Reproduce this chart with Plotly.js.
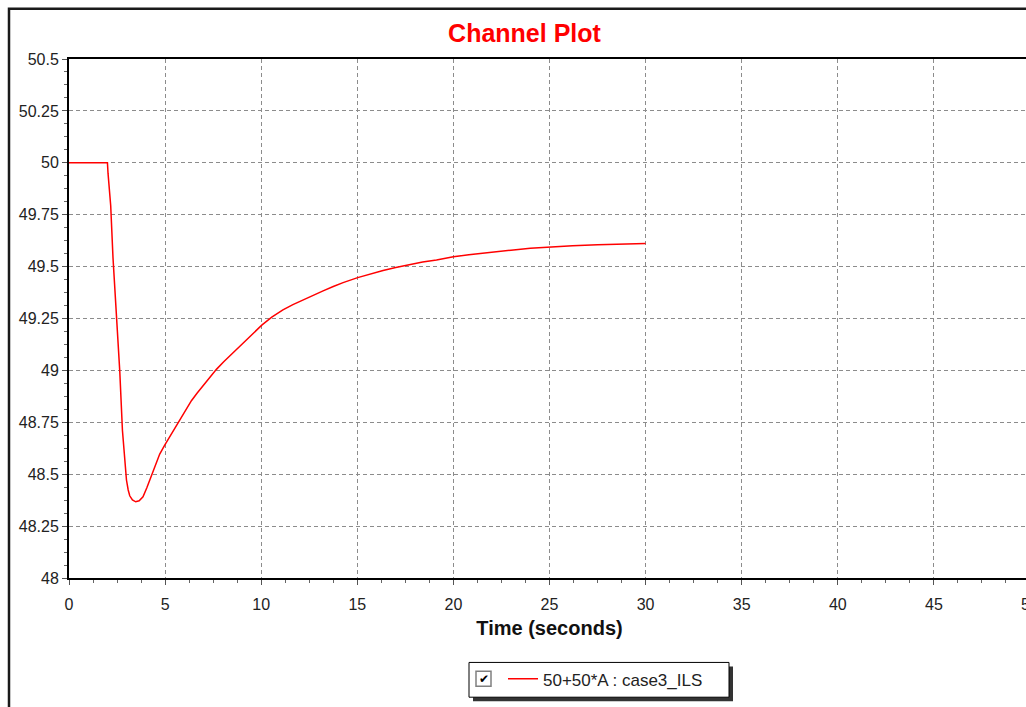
<!DOCTYPE html>
<html>
<head>
<meta charset="utf-8">
<script src="https://cdn.plot.ly/plotly-3.0.1.min.js"></script>
<style>
html,body{margin:0;padding:0;overflow:hidden;background:#fff;width:1026px;height:707px;}
#chart{width:1040px;height:707px;}
</style>
</head>
<body>
<div id="chart"></div>
<script>
// ---- data ----
const chartTitle = "Channel Plot";
const xAxisTitle = "Time (seconds)";
const seriesName = "50+50*A : case3_ILS";
const time = [0, 2.0, 2.03, 2.17, 2.29, 2.47, 2.64, 2.78, 2.90, 2.99, 3.08, 3.16, 3.30, 3.47, 3.65, 3.85, 4.05, 4.29, 4.50, 4.72, 4.98, 5.24, 5.50, 5.76, 6.05, 6.37, 6.67, 6.97, 7.30, 7.67, 8.05, 8.45, 8.85, 9.23, 9.63, 10.03, 10.55, 11.13, 11.65, 12.17, 12.70, 13.22, 13.75, 14.26, 15.02, 15.65, 16.34, 17.00, 17.73, 18.40, 19.12, 20.0, 20.8, 21.5, 22.3, 23.0, 24.0, 25.0, 26.2, 27.5, 28.7, 30.0];
const value = [50, 50, 49.95, 49.793, 49.541, 49.254, 48.999, 48.712, 48.549, 48.472, 48.424, 48.396, 48.376, 48.367, 48.372, 48.391, 48.435, 48.494, 48.550, 48.597, 48.640, 48.680, 48.722, 48.766, 48.811, 48.854, 48.891, 48.926, 48.964, 49.005, 49.042, 49.077, 49.114, 49.149, 49.184, 49.218, 49.257, 49.292, 49.317, 49.340, 49.362, 49.383, 49.404, 49.423, 49.447, 49.465, 49.481, 49.496, 49.511, 49.522, 49.532, 49.547, 49.557, 49.565, 49.572, 49.579, 49.588, 49.595, 49.600, 49.605, 49.608, 49.611];
const xTickVals = [0, 5, 10, 15, 20, 25, 30, 35, 40, 45, 50];
const xTickText = ["0", "5", "10", "15", "20", "25", "30", "35", "40", "45", "50"];
const yTickVals = [48, 48.25, 48.5, 48.75, 49, 49.25, 49.5, 49.75, 50, 50.25, 50.5];
const yTickText = ["48", "48.25", "48.5", "48.75", "49", "49.25", "49.5", "49.75", "50", "50.25", "50.5"];

// ---- layout helpers (pixel -> paper) ----
const L = 69, R = 1030, T = 59.5, B = 582;
const px = v => (v - L) / (R - L);
const py = v => (B - v) / (B - T);
const FONT = "Liberation Sans, Arial, sans-serif";

const trace = {
  x: time, y: value, type: "scatter", mode: "lines", name: seriesName,
  line: {color: "#ff0000", width: 1.5}
};

const gridDash = "4px,3px";
const layout = {
  width: 1040, height: 707,
  margin: {l: L, r: 1040 - R, t: T, b: 707 - B, pad: 0},
  paper_bgcolor: "#ffffff", plot_bgcolor: "#ffffff",
  font: {family: FONT, color: "#222"},
  title: {text: chartTitle, font: {family: FONT, size: 25, color: "#ff0000", weight: "bold"},
          xref: "paper", x: px(524.5), xanchor: "center", yref: "container", y: 1 - 33/707, yanchor: "middle"},
  xaxis: {
    range: [0, 50], tickvals: xTickVals, ticktext: xTickText,
    showline: true, linecolor: "#000", linewidth: 2, mirror: true,
    ticks: "outside", ticklen: 5, tickcolor: "#555", tickwidth: 1,
    ticklabelstandoff: 6,
    tickfont: {family: FONT, size: 16, color: "#222"},
    showgrid: true, gridcolor: "#8c8c8c", gridwidth: 1, griddash: gridDash,
    zeroline: false,
    minor: {dtick: 1.25, ticks: "outside", ticklen: 3, tickcolor: "#666", showgrid: false},
    title: {text: xAxisTitle, font: {family: FONT, size: 20, color: "#111", weight: "bold"}, standoff: 9},
    automargin: false
  },
  yaxis: {
    range: [48, 50.5], tickvals: yTickVals, ticktext: yTickText,
    showline: true, linecolor: "#000", linewidth: 2, mirror: true,
    ticks: "outside", ticklen: 5, tickcolor: "#555", tickwidth: 1,
    tickfont: {family: FONT, size: 16, color: "#222"},
    showgrid: true, gridcolor: "#8c8c8c", gridwidth: 1, griddash: gridDash,
    zeroline: false,
    minor: {dtick: 0.0625, ticks: "outside", ticklen: 3, tickcolor: "#666", showgrid: false},
    automargin: false
  },
  showlegend: true,
  legend: {
    x: px(503), xanchor: "left", y: py(684), yanchor: "middle",
    bgcolor: "rgba(0,0,0,0)", borderwidth: 0,
    font: {family: FONT, size: 17, color: "#222"}
  },
  shapes: [
    // outer frame
    {type: "rect", xref: "paper", yref: "paper", x0: px(9), x1: 1.3, y0: -0.6, y1: py(9),
     line: {color: "#1a1a1a", width: 2.5}, fillcolor: "rgba(0,0,0,0)", layer: "below"},
    // legend shadow
    {type: "rect", xref: "paper", yref: "paper", x0: px(473), x1: px(733), y0: py(706), y1: py(671),
     line: {width: 0}, fillcolor: "#333", layer: "above"},
    // legend box
    {type: "rect", xref: "paper", yref: "paper", x0: px(469), x1: px(729), y0: py(702), y1: py(667),
     line: {color: "#000", width: 1}, fillcolor: "#fff", layer: "above"},
    // checkbox
    {type: "rect", xref: "paper", yref: "paper", x0: px(476), x1: px(491), y0: py(691), y1: py(676),
     line: {color: "#808080", width: 1.5}, fillcolor: "#fff", layer: "above"}
  ],
  annotations: [
    {text: "✔", xref: "paper", yref: "paper", x: px(483.5), y: py(683.5), xanchor: "center", yanchor: "middle",
     showarrow: false, font: {family: "DejaVu Sans", size: 12, color: "#000"}}
  ]
};

Plotly.newPlot("chart", [trace], layout, {displayModeBar: false, staticPlot: true});
</script>
</body>
</html>
